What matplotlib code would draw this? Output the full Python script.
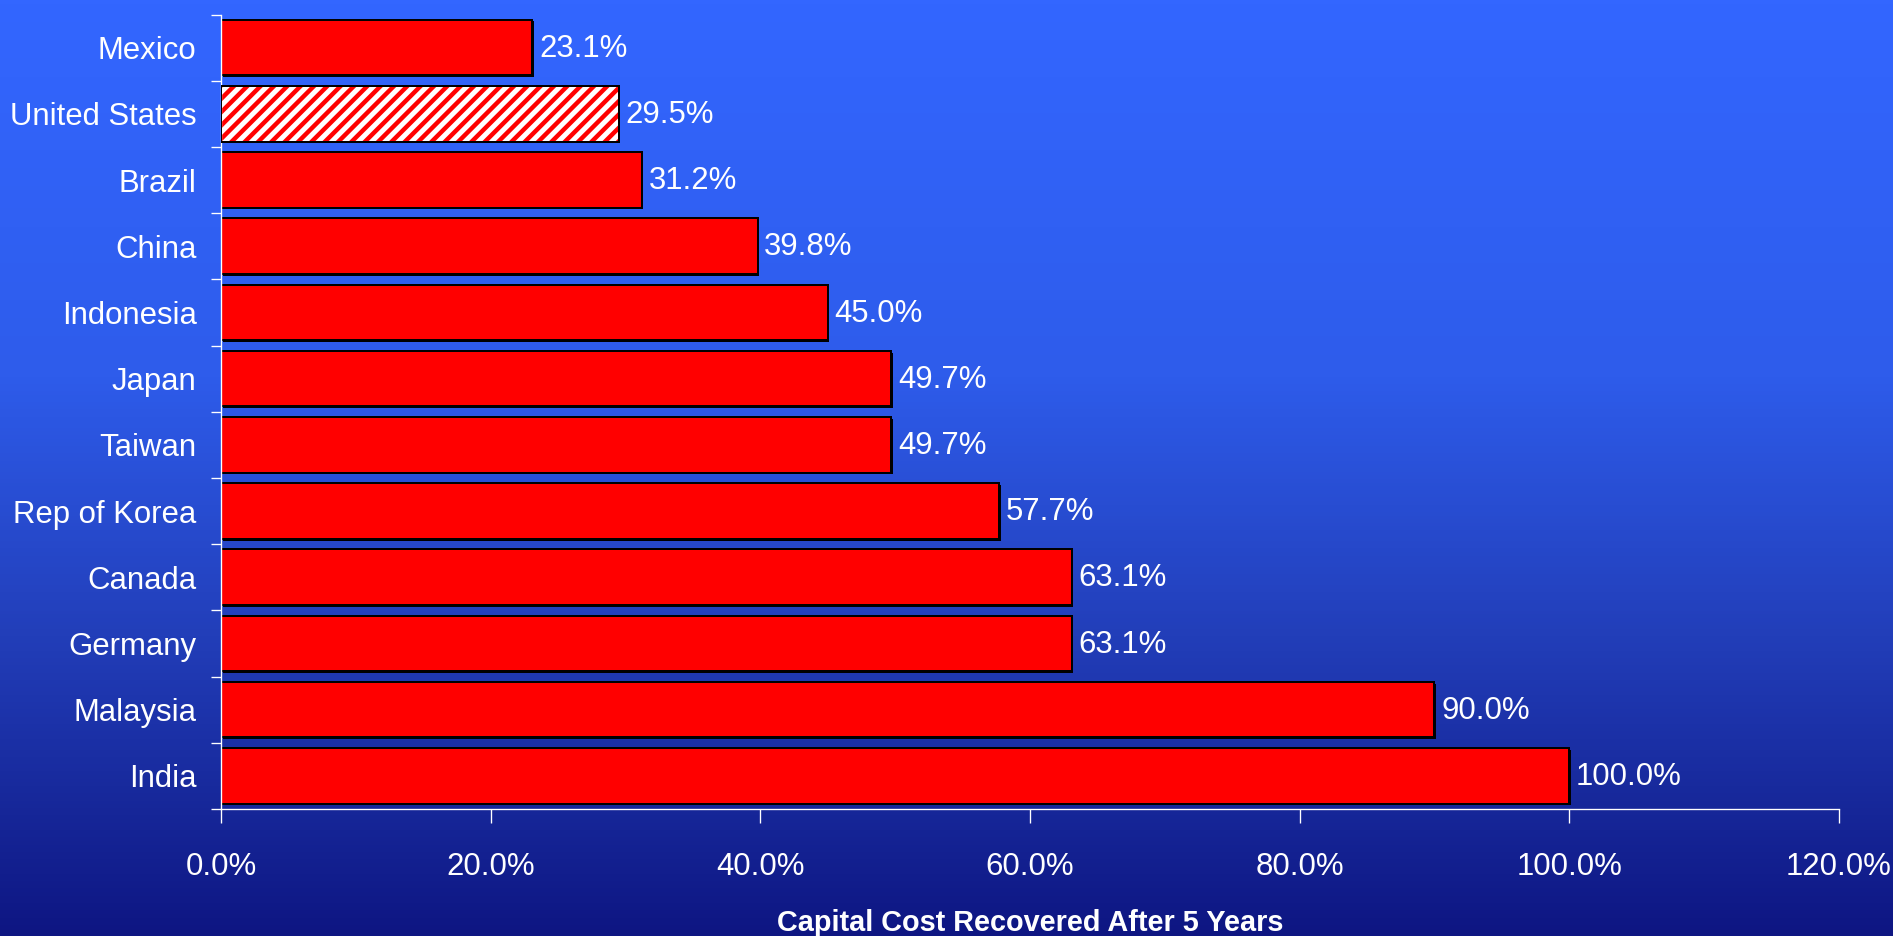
import numpy as np
import matplotlib
matplotlib.use("Agg")
import matplotlib.pyplot as plt
from matplotlib.colors import LinearSegmentedColormap
import matplotlib.patheffects as pe

plt.rcParams['font.family'] = ['Liberation Sans', 'DejaVu Sans']
plt.rcParams['hatch.linewidth'] = 4.0

countries = ['Mexico', 'United States', 'Brazil', 'China', 'Indonesia', 'Japan',
             'Taiwan', 'Rep of Korea', 'Canada', 'Germany', 'Malaysia', 'India']
recovered = [23.1, 29.5, 31.2, 39.8, 45.0, 49.7, 49.7, 57.7, 63.1, 63.1, 90.0, 100.0]
highlight = 'United States'
xticks = [0, 20, 40, 60, 80, 100, 120]

DPI = 80
fig = plt.figure(figsize=(1893 / DPI, 936 / DPI), dpi=DPI)

# background gradient
bg = fig.add_axes([0, 0, 1, 1])
grad = LinearSegmentedColormap.from_list('bg', [
    (0.0, (51/255, 102/255, 255/255)),
    (0.4, (46/255, 92/255, 235/255)),
    (0.68, (34/255, 62/255, 185/255)),
    (1.0, (14/255, 22/255, 130/255)),
])
bg.imshow(np.linspace(0, 1, 256).reshape(-1, 1), aspect='auto', cmap=grad,
          extent=[0, 1, 0, 1])
bg.set_axis_off()

ax = fig.add_axes([221 / 1893, 127 / 936, (1839 - 221) / 1893, (809 - 14.5) / 936])
ax.set_facecolor('none')

y = np.arange(len(countries))
shadow = [pe.SimplePatchShadow(offset=(1.5, -1.5), shadow_rgbFace='black', alpha=1), pe.Normal()]
for yi, c, v in zip(y, countries, recovered):
    if c == highlight:
        ax.barh(yi, v, height=0.84, color='white', edgecolor='#ff0000', hatch='//',
                linewidth=0, zorder=2)
        ax.barh(yi, v, height=0.84, color='none', edgecolor='black', linewidth=1.8,
                zorder=3)
    else:
        b = ax.barh(yi, v, height=0.84, color='#ff0000', edgecolor='black',
                    linewidth=1.8, zorder=2)
        b[0].set_path_effects(shadow)
    ax.annotate(f'{v:.1f}%', (v, yi), xytext=(6, -1), textcoords='offset points',
                va='center', ha='left', color='white', fontsize=28)

ax.set_ylim(len(countries) - 0.5, -0.5)
ax.set_xlim(0, 120)
ax.set_yticks(y)
ax.set_yticklabels(countries)
ax.set_yticks(np.arange(len(countries) + 1) - 0.5, minor=True)
ax.tick_params(axis='y', which='major', length=0, pad=22, labelsize=28, colors='white')
ax.tick_params(axis='y', which='minor', length=9, width=1.2, color='white', direction='out')
ax.set_xticks(xticks)
ax.set_xticklabels([f'{t:.1f}%' for t in xticks])
ax.tick_params(axis='x', length=13, width=1.2, pad=26, labelsize=28, colors='white')

for s in ['top', 'right']:
    ax.spines[s].set_visible(False)
for s in ['left', 'bottom']:
    ax.spines[s].set_color('white')
    ax.spines[s].set_linewidth(1.2)

ax.set_xlabel('Capital Cost Recovered After 5 Years', fontsize=26, fontweight='bold',
              color='white', labelpad=24)

fig.savefig('out.png', dpi=DPI)
